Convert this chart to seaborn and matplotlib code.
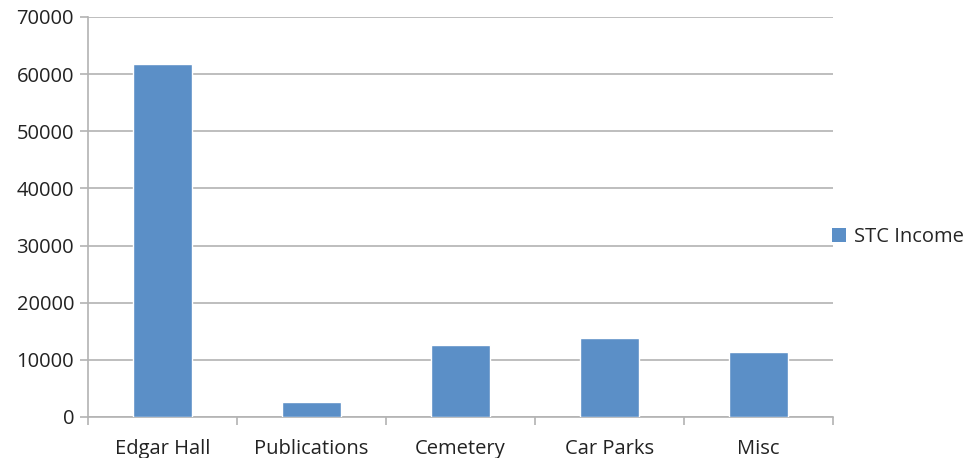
import matplotlib
matplotlib.use("Agg")
import matplotlib.pyplot as plt
import seaborn as sns
import pandas as pd
from matplotlib.patches import Patch

categories = ["Edgar Hall", "Publications", "Cemetery", "Car Parks", "Misc"]
income = [61700, 2600, 12550, 13770, 11320]
series_name = "STC Income"
y_ticks = [0, 10000, 20000, 30000, 40000, 50000, 60000, 70000]

df = pd.DataFrame({"Category": categories, "Income": income})

sns.set_style("white")
plt.rcParams['font.family'] = ['Open Sans', 'DejaVu Sans']

bar_color = "#5b8fc7"
grid_color = "#b3b3b3"
text_color = "#222222"
fs = 14.5

fig = plt.figure(figsize=(9.64, 4.58), dpi=100)
ax = fig.add_axes([88 / 964, 41 / 458, 745 / 964, 400 / 458])

sns.barplot(data=df, x="Category", y="Income", color=bar_color, width=0.4,
            saturation=1, ax=ax, zorder=3)

ax.set_ylim(0, 70000)
ax.set_xlim(-0.5, len(categories) - 0.5)
ax.set_yticks(y_ticks)
ax.set_yticklabels([str(t) for t in y_ticks], fontsize=fs, color=text_color)
ax.set_xticks(range(len(categories)))
ax.set_xticklabels(categories, fontsize=fs, color=text_color)
ax.set_xlabel("")
ax.set_ylabel("")

# gridlines behind bars
ax.yaxis.grid(True, color=grid_color, linewidth=1.2, zorder=0)
ax.set_axisbelow(True)

for side in ["top", "right"]:
    ax.spines[side].set_visible(False)
for side in ["left", "bottom"]:
    ax.spines[side].set_color(grid_color)
    ax.spines[side].set_linewidth(1.2)

# y ticks outward, x ticks at category boundaries
ax.tick_params(axis="y", which="major", direction="out", length=6, width=1.2,
               color=grid_color, pad=4, left=True)
ax.tick_params(axis="x", which="major", length=0, pad=16, bottom=True)
ax.set_xticks([i - 0.5 for i in range(len(categories) + 1)], minor=True)
ax.tick_params(axis="x", which="minor", direction="out", length=6, width=1.2,
               color=grid_color, bottom=True)

handle = Patch(facecolor=bar_color, edgecolor="none", label=series_name)
ax.legend(handles=[handle], loc="center left", bbox_to_anchor=(0.998, 0.45),
          frameon=False, fontsize=fs, handlelength=0.7, handleheight=0.7,
          handletextpad=0.4, borderaxespad=0, borderpad=0)

fig.savefig("out.png", dpi=100)
